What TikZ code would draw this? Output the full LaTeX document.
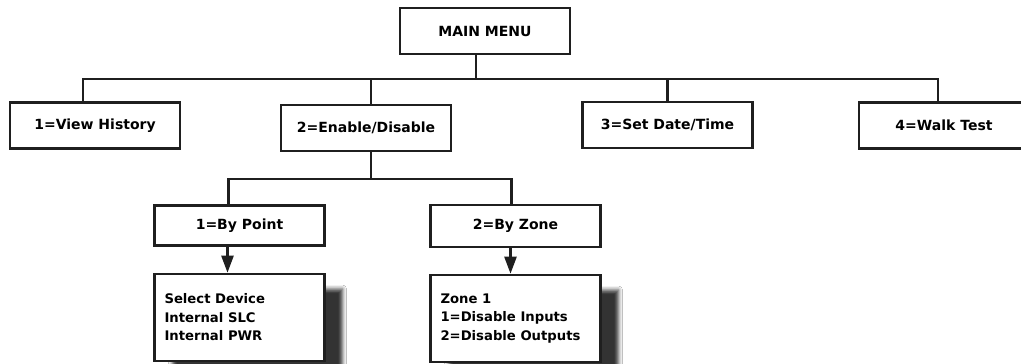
\documentclass[tikz,border=0pt]{standalone}
\usepackage{fontspec}
\setmainfont{DejaVu Sans}
\usetikzlibrary{arrows.meta,shadows.blur}

\begin{document}
\begin{tikzpicture}[x=1pt,y=-1pt,
    menu/.style={draw=black!88,line width=2.6pt,fill=white,minimum width=170pt,minimum height=46pt,inner sep=0pt,font=\bfseries\fontsize{14}{18.5}\selectfont},
    screen/.style={menu,minimum height=87pt,text width=150pt,align=flush left,font=\bfseries\fontsize{13.2}{18.5}\selectfont,
        blur shadow={shadow xshift=18pt,shadow yshift=-15pt,shadow blur radius=4pt,shadow opacity=80}},
    conn/.style={draw=black!88,line width=2.4pt},
    arr/.style={conn,-{Triangle[length=17pt,width=12pt]}}]
    \clip (0,0) rectangle (1021,364);
    \fill[white] (0,0) rectangle (1021,364);
    % menus
    \node[menu] (mm) at (485,31) {MAIN MENU};
    \node[menu] (vh) at (95,125.5) {1=View History};
    \node[menu] (ed) at (366,128) {2=Enable/Disable};
    \node[menu] (sdt) at (667.5,125) {3=Set Date/Time};
    \node[menu] (wt) at (944,125.5) {4=Walk Test};
    \node[menu,minimum height=40pt] (bp) at (239.5,225.5) {1=By Point};
    \node[menu,minimum height=42pt] (bz) at (515.5,226) {2=By Zone};
    % screens
    \node[screen] (sd) at (239.5,317.5) {Select Device\\Internal SLC\\Internal PWR};
    \node[screen] (zn) at (515.5,318.5) {Zone 1\\1=Disable Inputs\\2=Disable Outputs};
    % main menu branches
    \coordinate (rail1) at (476,79);
    \draw[conn] (mm.south -| rail1) -- (rail1);
    \draw[conn] ([xshift=-12pt]vh.north) |- (rail1) -| ([xshift=-6pt]wt.north);
    \draw[conn] (sdt.north |- rail1) -- (sdt.north);
    \coordinate (edT) at ([xshift=5pt]ed.north);
    \draw[conn] (edT |- rail1) -- (edT);
    % enable/disable branches
    \coordinate (edB) at ([xshift=5pt]ed.south);
    \coordinate (rail2) at (371,179);
    \draw[conn] (edB) -- (rail2);
    \draw[conn] ([xshift=-11pt]bp.north) |- (rail2) -| ([xshift=-4pt]bz.north);
    \draw[arr] ([xshift=-12pt]bp.south) -- ([xshift=-12pt]sd.north);
    \draw[arr] ([xshift=-5pt]bz.south) -- ([xshift=-5pt]zn.north);
\end{tikzpicture}
\end{document}
